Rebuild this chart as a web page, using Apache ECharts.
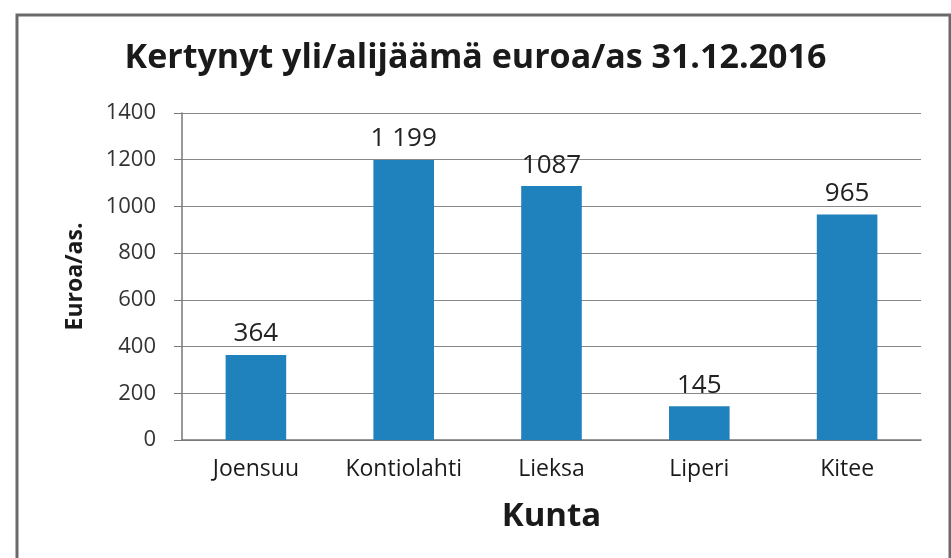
<!DOCTYPE html>
<html>
<head>
<meta charset="utf-8">
<script src="https://cdn.jsdelivr.net/npm/echarts@6/dist/echarts.min.js"></script>
<style>
  html, body { margin: 0; padding: 0; background: #ffffff; }
  #chart { width: 951px; height: 558px; }
</style>
</head>
<body>
<div id="chart"></div>
<script>
// data
const kunnat = ['Joensuu', 'Kontiolahti', 'Lieksa', 'Liperi', 'Kitee'];
const arvot = [364, 1199, 1087, 145, 965];
const arvoTekstit = ['364', '1 199', '1087', '145', '965'];

const fontti = '"Open Sans", Lato, sans-serif';

const chart = echarts.init(document.getElementById('chart'));
chart.setOption({
  backgroundColor: '#ffffff',
  animation: false,
  graphic: [{
    type: 'rect',
    shape: { x: 17, y: 15, width: 933, height: 560 },
    style: { fill: 'none', stroke: '#6a6a6a', lineWidth: 3 }
  }],
  title: {
    text: 'Kertynyt yli/alijäämä euroa/as 31.12.2016',
    left: 'center',
    top: 36,
    textStyle: { fontFamily: fontti, fontSize: 34, fontWeight: 'bold', color: '#1a1a1a' }
  },
  grid: { left: 182, right: 30, top: 113, bottom: 118 },
  xAxis: {
    type: 'category',
    data: kunnat,
    name: 'Kunta',
    nameLocation: 'middle',
    nameGap: 60,
    nameTextStyle: { fontFamily: fontti, fontSize: 33, fontWeight: 'bold', color: '#1a1a1a' },
    axisLine: { lineStyle: { color: '#777', width: 1.5 } },
    axisTick: { show: false },
    axisLabel: { interval: 0, fontFamily: fontti, fontSize: 23, color: '#1a1a1a', margin: 18 }
  },
  yAxis: {
    type: 'value',
    min: 0,
    max: 1400,
    interval: 200,
    name: 'Euroa/as.',
    nameLocation: 'middle',
    nameGap: 95,
    nameTextStyle: { fontFamily: fontti, fontSize: 23, fontWeight: 'bold', color: '#1a1a1a' },
    axisLine: { show: true, lineStyle: { color: '#777', width: 1.5 } },
    axisTick: { show: true, length: 8, lineStyle: { color: '#777' } },
    axisLabel: { fontFamily: fontti, fontSize: 22, color: '#333', margin: 26, formatter: v => String(v) },
    splitLine: { lineStyle: { color: '#888', width: 1.2 } }
  },
  series: [{
    type: 'bar',
    data: arvot,
    barWidth: '41%',
    itemStyle: { color: '#1f82bc' },
    label: {
      show: true,
      position: 'top',
      distance: 8,
      fontFamily: fontti,
      fontSize: 26,
      color: '#222',
      formatter: p => arvoTekstit[p.dataIndex]
    }
  }]
});
</script>
</body>
</html>
